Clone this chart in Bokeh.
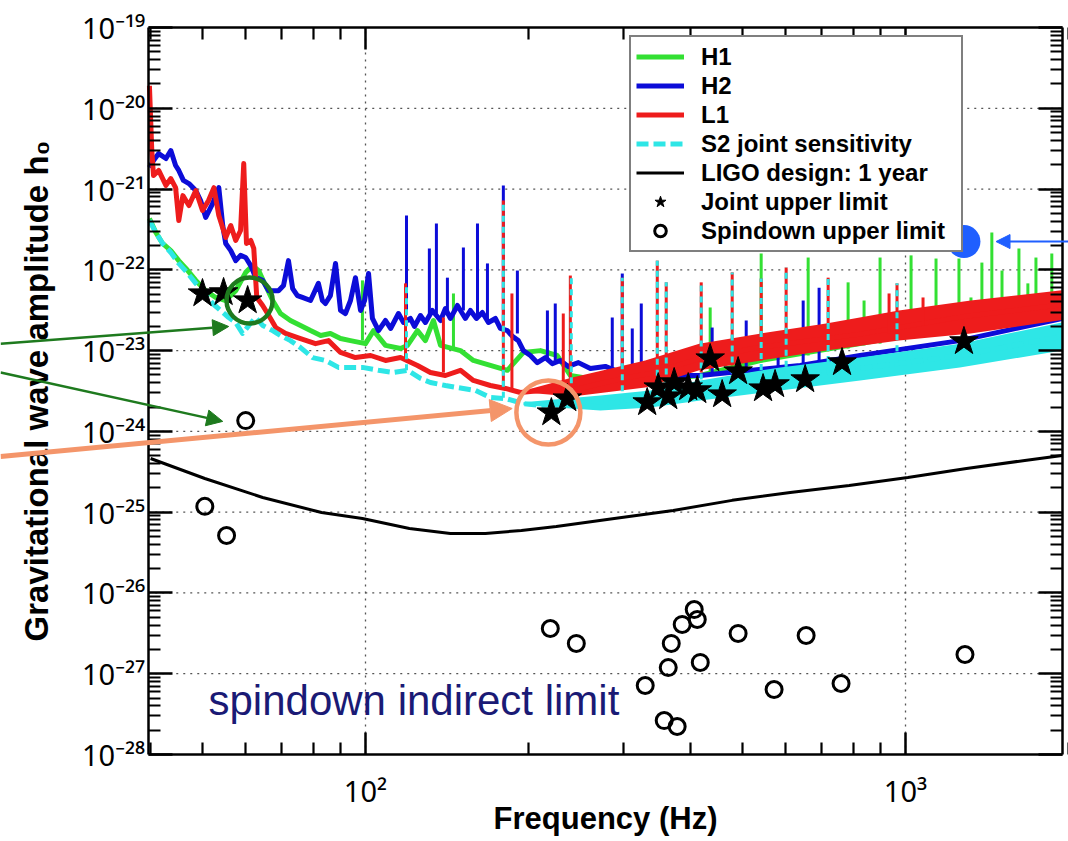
import numpy as np
from bokeh.plotting import figure
from bokeh.models import (ColumnDataSource, FixedTicker, LogAxis, CustomJSTickFormatter,
                          Legend, LegendItem, Arrow, NormalHead)
from bokeh.core.properties import value
from bokeh.embed import file_html
from bokeh.resources import INLINE

# ---------------- data ----------------
# H1 detector (green)
h1_freq = [39.8, 40.9, 42.1, 43.6, 45.1, 46.5, 48.5, 50.6, 52.8, 55.1, 57.5, 60.0, 61.8, 63.4, 65.3,
           67.3, 69.6, 72.6, 75.8, 79.1, 82.6, 86.1, 89.9, 93.8, 100, 103.5, 108.9, 116.1, 119.6,
           124.8, 129.1, 133.6, 137.7, 149.9, 158.4, 170.3, 183.1, 196.1, 210.8, 226.5, 239.5,
           272.2, 336.8, 416.8, 538.1, 824, 1261, 1948]
h1_amp = [4.33e-22, 2.90e-22, 2.12e-22, 1.73e-22, 1.30e-22, 1.04e-22, 7.4e-23, 5.5e-23, 4.55e-23,
          4.17e-23, 5.5e-23, 9.3e-23, 1.13e-22, 9.8e-23, 6.4e-23, 4.17e-23, 2.88e-23, 2.36e-23,
          2.05e-23, 1.77e-23, 1.54e-23, 1.63e-23, 1.41e-23, 1.33e-23, 1.22e-23, 1.77e-23, 1.16e-23,
          1.06e-23, 1.16e-23, 1.77e-23, 1.33e-23, 2.36e-23, 1.16e-23, 1.00e-23, 7.55e-24, 6.55e-24,
          5.7e-24, 9.5e-24, 1.00e-23, 8.7e-24, 4.92e-24, 4.27e-24, 4.27e-24, 4.92e-24, 7.55e-24,
          1.22e-23, 2.05e-23, 3.62e-23]
h1_line_f = [98.7, 145.5, 434.8, 540.4, 660.3, 782.9, 838, 897.2, 1024, 1139, 1256, 1322, 1385,
             1445, 1509, 1622, 1685, 1744, 1866]
h1_line_base = [1.33e-23, 1.0e-23, 4.92e-24, 7.1e-24, 8.7e-24, 1.06e-23, 1.16e-23, 1.22e-23,
                1.50e-23, 1.77e-23, 1.93e-23, 2.05e-23, 2.23e-23, 2.36e-23, 2.50e-23, 2.72e-23,
                2.88e-23, 2.97e-23, 3.32e-23]
h1_line_top = [7.4e-23, 5.1e-23, 3.42e-23, 1.59e-22, 1.42e-22, 7.0e-23, 4.17e-23, 1.42e-22,
               1.51e-22, 1.38e-22, 1.38e-22, 4.55e-23, 1.23e-22, 2.90e-22, 9.8e-23, 1.84e-22,
               6.8e-23, 1.42e-22, 1.59e-22]

# H2 detector (blue)
h2_freq = [39.8, 40.5, 41.4, 42.7, 43.6, 44.5, 45.1, 46.0, 47.1, 48.5, 49.5, 50.6, 52.1, 53.5,
           54.4, 55.1, 56.3, 57.5, 58.7, 60.0, 61.3, 62.6, 64.5, 66.2, 69.0, 70.5, 72.0, 73.3,
           74.8, 76.4, 79.1, 81.8, 83.2, 84.3, 86.1, 88.0, 89.9, 91.8, 93.8, 95.8, 97.9, 99.6,
           101.3, 103.0, 105.7, 108.9, 111.3, 115.1, 117.6, 121.1, 123.2, 126.4, 129.1, 133.0,
           137.7, 140.6, 143.6, 148.0, 153.1, 156.4, 160.5, 164.6, 168.9, 174.0, 177.7, 183.1,
           187.1, 191.9, 196.1, 202.0, 208.1, 215.3, 221.8, 229.5, 237.4, 247.9, 260.9, 278.0,
           296.4, 322.7, 416.8, 638.2, 824, 1261, 1948]
h2_amp = [1.85e-21, 2.26e-21, 2.75e-21, 2.39e-21, 3.0e-21, 1.96e-21, 1.70e-21, 1.28e-21, 1.17e-21,
          9.6e-22, 7.2e-22, 4.45e-22, 6.6e-22, 1.04e-21, 3.54e-22, 2.12e-22, 1.73e-22, 1.30e-22,
          1.51e-22, 1.42e-22, 1.13e-22, 8.0e-23, 7.4e-23, 5.5e-23, 5.5e-23, 6.4e-23, 1.30e-22,
          5.87e-23, 4.8e-23, 4.55e-23, 4.17e-23, 6.8e-23, 4.17e-23, 3.83e-23, 4.8e-23, 1.20e-22,
          3.14e-23, 2.88e-23, 4.17e-23, 8.0e-23, 3.14e-23, 4.17e-23, 9.0e-23, 2.50e-23, 1.77e-23,
          2.36e-23, 1.88e-23, 2.88e-23, 2.23e-23, 2.50e-23, 1.99e-23, 2.72e-23, 2.23e-23, 3.14e-23,
          2.36e-23, 3.32e-23, 2.50e-23, 3.62e-23, 2.50e-23, 3.14e-23, 2.50e-23, 2.97e-23, 2.23e-23,
          2.50e-23, 1.88e-23, 1.77e-23, 1.50e-23, 1.33e-23, 1.00e-23, 8.7e-24, 7.1e-24, 8.2e-24,
          6.9e-24, 7.55e-24, 6.37e-24, 7.1e-24, 6.0e-24, 6.37e-24, 5.36e-24, 4.92e-24, 4.92e-24,
          6.55e-24, 8.7e-24, 1.33e-23, 2.50e-23]
h2_line_f = [119.1, 131.3, 135.3, 141.8, 151.8, 161.2, 168.2, 180.0, 191.1, 217.2, 224.6, 286.4,
             298.9, 311.9, 324.1, 438.5, 507.0, 580.9, 646.4, 691.8]
h2_line_base = [2.88e-23, 2.88e-23, 2.88e-23, 2.72e-23, 3.14e-23, 2.72e-23, 2.36e-23, 2.05e-23,
                1.63e-23, 7.55e-24, 7.55e-24, 6.0e-24, 6.0e-24, 5.7e-24, 5.36e-24, 5.36e-24,
                5.7e-24, 6.37e-24, 6.55e-24, 7.1e-24]
h2_line_top = [4.71e-22, 1.84e-22, 3.75e-22, 8.0e-23, 1.89e-22, 3.75e-22, 1.20e-22, 1.11e-21,
               9.8e-23, 3.14e-23, 3.83e-23, 2.57e-23, 9.0e-23, 1.88e-23, 3.83e-23, 1.93e-23,
               2.36e-23, 1.22e-23, 4.17e-23, 6.0e-23]

# L1 detector (red)
l1_freq = [39.8, 40.2, 40.5, 41.4, 42.7, 43.6, 44.5, 45.1, 45.9, 47.1, 48.5, 49.9, 51.2, 52.4,
           53.5, 55.1, 56.3, 57.5, 58.7, 59.5, 60.2, 61.3, 62.1, 62.9, 64.5, 66.2, 68.2, 71.1,
           75.8, 80.8, 85.4, 89.9, 95.8, 102.2, 108.9, 116.1, 124.8, 131.9, 140.6, 149.9, 158.4,
           170.3, 181.6, 193.6, 210.8, 229.5, 250.0, 272.2, 302.7, 336.8, 416.8, 538.1, 824,
           1261, 1948]
l1_amp = [1.9e-20, 3.0e-21, 1.47e-21, 1.70e-21, 1.11e-21, 1.35e-21, 1.04e-21, 4.08e-22, 8.3e-22,
          6.25e-22, 9.6e-22, 5.43e-22, 7.2e-22, 1.04e-21, 4.71e-22, 2.51e-22, 3.54e-22, 2.31e-22,
          3.07e-22, 2.07e-21, 2.12e-22, 2.31e-22, 1.84e-22, 4.55e-23, 3.62e-23, 2.72e-23, 1.93e-23,
          1.63e-23, 1.41e-23, 1.22e-23, 1.33e-23, 9.5e-24, 8.2e-24, 8.7e-24, 7.55e-24, 8.2e-24,
          6.55e-24, 5.36e-24, 4.92e-24, 5.7e-24, 4.27e-24, 3.70e-24, 3.40e-24, 3.03e-24, 3.21e-24,
          3.21e-24, 3.40e-24, 3.92e-24, 4.6e-24, 5.2e-24, 8.0e-24, 1.1e-23, 1.6e-23, 2.6e-23,
          3.7e-23]
l1_band_f = [200.0, 241.6, 329.6, 415.0, 540.4, 712.9, 972.6, 1321, 1948]
l1_band_lo = [3.0e-24, 2.7e-24, 3.49e-24, 5.7e-24, 7.55e-24, 1.0e-23, 1.33e-23, 1.63e-23, 2.4e-23]
l1_band_hi = [3.3e-24, 4.65e-24, 7.55e-24, 1.22e-23, 1.63e-23, 2.17e-23, 3.14e-23, 4.17e-23, 5.6e-23]
l1_line_f = [118.6, 139.4, 180.0, 186.7, 232.4, 239.5, 298.9, 347.0, 360.5, 418.5, 477.6, 540.4,
             601.1, 719.0, 932.3, 964.4, 1077.6]
l1_line_base = [8.2e-24, 5.36e-24, 3.4e-24, 3.40e-24, 3.21e-24, 3.4e-24, 3.92e-24, 4.52e-24,
                4.52e-24, 5.36e-24, 6.55e-24, 7.55e-24, 8.7e-24, 1.16e-23, 1.63e-23, 1.63e-23,
                2.05e-23]
l1_line_top = [6.8e-23, 2.57e-23, 7.2e-22, 5.1e-23, 2.88e-23, 8.5e-23, 8.0e-23, 1.30e-22, 7.0e-23,
               7.0e-23, 9.3e-23, 7.8e-23, 1.07e-22, 8.0e-23, 5.1e-23, 6.8e-23, 4.55e-23]

# S2 joint sensitivity (cyan, dashed)
s2_freq = [39.8, 40.9, 42.1, 43.6, 45.1, 46.9, 48.5, 50.4, 52.1, 53.9, 55.8, 57.5, 59.2, 60.8,
           62.6, 64.5, 67.3, 69.6, 72.6, 75.8, 79.8, 84.3, 89.1, 93.8, 98.7, 105.7, 112.7, 119.6,
           126.4, 131.9, 140.6, 148.0, 159.8, 170.3, 181.6, 196.1, 210.8, 226.5, 244.6, 260.9,
           284.1, 302.7, 416.8, 585.9, 824, 1261, 1948]
s2_amp = [4.08e-22, 2.90e-22, 2.12e-22, 1.64e-22, 1.20e-22, 9.0e-23, 6.8e-23, 5.1e-23, 3.83e-23,
          3.14e-23, 2.57e-23, 2.23e-23, 1.63e-23, 2.05e-23, 2.57e-23, 2.05e-23, 1.77e-23, 1.54e-23,
          1.33e-23, 1.09e-23, 8.2e-24, 7.55e-24, 6.2e-24, 6.2e-24, 6.2e-24, 5.7e-24, 5.36e-24,
          5.7e-24, 4.52e-24, 4.03e-24, 3.70e-24, 3.49e-24, 3.21e-24, 2.63e-24, 2.55e-24, 2.21e-24,
          2.09e-24, 2.21e-24, 2.09e-24, 2.41e-24, 2.21e-24, 2.41e-24, 3.21e-24, 4.52e-24, 6.0e-24,
          8.7e-24, 1.50e-23]
s2_band_f = [196.1, 272.2, 336.8, 416.8, 585.9, 824, 1261, 1948]
s2_band_lo = [2.1e-24, 1.82e-24, 1.98e-24, 2.41e-24, 3.21e-24, 4.27e-24, 6.2e-24, 1.0e-23]
s2_band_hi = [2.3e-24, 2.78e-24, 3.21e-24, 4.27e-24, 6.2e-24, 8.2e-24, 1.22e-23, 2.23e-23]
s2_line_f = [119.1, 180.0, 240.5, 298.9, 347.0, 360.5, 418.5, 477.6, 540.4, 601.1, 719.0, 964.4]
s2_line_base = [5.7e-24, 2.6e-24, 2.1e-24, 2.3e-24, 2.6e-24, 2.7e-24, 3.2e-24, 3.8e-24, 4.2e-24,
                4.6e-24, 5.3e-24, 7.2e-24]
s2_line_top = [6.8e-23, 7.2e-22, 8.5e-23, 8.0e-23, 1.30e-22, 7.0e-23, 7.0e-23, 9.3e-23, 7.8e-23,
               1.07e-22, 8.0e-23, 6.8e-23]

# LIGO design: 1 year
design_freq = [40, 50.4, 64.5, 82.9, 98.7, 120.6, 143.6, 166.7, 194.4, 225.6, 288.9, 371.4,
               477.5, 611.7, 786.4, 1010, 1297, 1663, 1950]
design_amp = [4.62e-25, 2.61e-25, 1.52e-25, 9.9e-26, 8.35e-26, 6.28e-26, 5.45e-26, 5.45e-26,
              5.93e-26, 6.65e-26, 8.35e-26, 1.05e-25, 1.40e-25, 1.75e-25, 2.14e-25, 2.69e-25,
              3.47e-25, 4.37e-25, 5.03e-25]

# Joint upper limits (stars)
star_freq = [49.9, 54.6, 60.5, 220.9, 236.4, 332.4, 348.4, 363.6, 372.9, 395.9, 411.5, 434.8,
             457.6, 489.8, 544.8, 573.4, 651.9, 762.9, 1283]
star_amp = [5.09e-23, 5.25e-23, 4.17e-23, 1.71e-24, 2.55e-24, 2.28e-24, 3.49e-24, 2.70e-24,
            4.03e-24, 3.49e-24, 3.21e-24, 7.98e-24, 2.86e-24, 5.51e-24, 3.39e-24, 3.81e-24,
            4.39e-24, 7.13e-24, 1.30e-23]

# Spindown upper limits (open circles)
sd_freq = [60.0, 50.4, 55.3, 219.9, 245.7, 368.3, 363.6, 385.9, 406.2, 411.5, 416.8, 329.6,
           357.4, 377.7, 489.8, 571.0, 654.6, 759.7, 1288.6]
sd_amp = [1.36e-24, 1.18e-25, 5.14e-26, 3.63e-27, 2.37e-27, 2.37e-27, 1.19e-27, 4.07e-27,
          6.23e-27, 4.69e-27, 1.38e-27, 7.15e-28, 2.63e-28, 2.22e-28, 3.15e-27, 6.38e-28,
          2.97e-27, 7.57e-28, 1.73e-27]

legend_labels = ["H1", "H2", "L1", "S2 joint sensitivity", "LIGO design: 1 year",
                 "Joint upper limit", "Spindown upper limit"]
x_major = [100, 1000]
x_minor = [40, 50, 60, 70, 80, 90, 200, 300, 400, 500, 600, 700, 800, 900, 2000]
y_major = [10.0 ** e for e in range(-28, -18)]
y_minor = [k * 10.0 ** e for e in range(-28, -19) for k in range(2, 10)]
f_lo, f_hi = 39.6, 1953.0        # extent of the data box (Hz)
h_lo, h_hi = 1e-28, 1e-19        # extent of the data box (h0)

# ---------------- styling ----------------
GREEN = "#33e033"
BLUE = "#0c0cd8"
RED = "#ee1c1c"
CYAN = "#2ee6e6"
FONT = "Liberation Sans"
TICKFONT = "Noto Sans"

p = figure(width=1068, height=841, x_axis_type="log", y_axis_type="log",
           x_range=(21.09, 2003.7), y_range=(8.37e-30, 2.16e-19),
           output_backend="svg", toolbar_location=None,
           min_border_left=0, min_border_right=0, min_border_top=0, min_border_bottom=0,
           x_axis_label="Frequency (Hz)", y_axis_label="Gravitational wave amplitude h\u2080")
p.background_fill_color = "white"
p.border_fill_color = "white"
p.outline_line_color = None
p.xgrid.visible = False
p.ygrid.visible = False

xt = FixedTicker(ticks=x_major, minor_ticks=x_minor)
yt = FixedTicker(ticks=y_major, minor_ticks=y_minor)

fmt_code = """
const sup = {"-": "\\u207B", "0": "\\u2070", "1": "\\u00B9", "2": "\\u00B2", "3": "\\u00B3",
             "4": "\\u2074", "5": "\\u2075", "6": "\\u2076", "7": "\\u2077", "8": "\\u2078",
             "9": "\\u2079"};
const e = Math.round(Math.log10(tick));
let s = "";
for (const c of String(e)) { s += sup[c]; }
return "10" + s;
"""

def style_axis(ax, tick_in_major, tick_in_minor):
    ax.axis_line_width = 2.5
    ax.axis_line_color = "black"
    ax.major_tick_in = tick_in_major
    ax.major_tick_out = 0
    ax.minor_tick_in = tick_in_minor
    ax.minor_tick_out = 0
    ax.major_tick_line_width = 2.5
    ax.minor_tick_line_width = 2.2
    ax.major_tick_line_color = "black"
    ax.minor_tick_line_color = "black"

# grid (dotted, at major ticks, only inside the data box)
p.segment(x0=f_lo, x1=f_hi, y0=y_major[1:-1], y1=y_major[1:-1], line_color="#555555",
          line_dash="2 5", line_width=1.3)
p.segment(x0=x_major, x1=x_major, y0=h_lo, y1=h_hi, line_color="#555555",
          line_dash="2 5", line_width=1.3)

for ax in p.xaxis:
    ax.ticker = xt
    ax.bounds = (f_lo, f_hi)
    ax.fixed_location = h_lo
    ax.formatter = CustomJSTickFormatter(code=fmt_code)
    style_axis(ax, 22, 12)
    ax.major_label_text_font = TICKFONT
    ax.major_label_text_font_size = "29px"
    ax.major_label_text_color = "black"
    ax.major_label_standoff = 17
    ax.axis_label_text_font = FONT
    ax.axis_label_text_font_style = "bold"
    ax.axis_label_text_font_size = "31px"
    ax.axis_label_text_color = "black"
    ax.axis_label_standoff = -13

for ax in p.yaxis:
    ax.ticker = yt
    ax.bounds = (h_lo, h_hi)
    ax.fixed_location = f_lo
    ax.formatter = CustomJSTickFormatter(code=fmt_code)
    style_axis(ax, 24, 12)
    ax.major_label_text_font = TICKFONT
    ax.major_label_text_font_size = "29px"
    ax.major_label_text_color = "black"
    ax.major_label_standoff = 3
    ax.axis_label_text_font = FONT
    ax.axis_label_text_font_style = "bold"
    ax.axis_label_text_font_size = "33px"
    ax.axis_label_text_color = "black"
    ax.axis_label_standoff = 24

blank = CustomJSTickFormatter(code="return '';")
top_ax = LogAxis(ticker=xt, formatter=blank, bounds=(f_lo, f_hi), fixed_location=h_hi,
                 major_label_text_font_size="0px", major_label_standoff=0)
style_axis(top_ax, 22, 12)
p.add_layout(top_ax, "above")
right_ax = LogAxis(ticker=yt, formatter=blank, bounds=(h_lo, h_hi), fixed_location=f_hi,
                   major_label_text_font_size="0px", major_label_standoff=0)
style_axis(right_ax, 24, 12)
p.add_layout(right_ax, "right")

LW = 5

def spikes(f, base, top, color, dash="solid", width=3):
    src = ColumnDataSource(dict(f=f, base=base, top=top))
    p.segment(x0="f", y0="base", x1="f", y1="top", source=src, line_color=color,
              line_width=width, line_dash=dash)

r_h1 = p.line(h1_freq, h1_amp, line_color=GREEN, line_width=LW, line_join="round")
spikes(h1_line_f, h1_line_base, h1_line_top, GREEN)

r_h2 = p.line(h2_freq, h2_amp, line_color=BLUE, line_width=LW, line_join="round")
spikes(h2_line_f, h2_line_base, h2_line_top, BLUE)

p.varea(x=l1_band_f, y1=l1_band_lo, y2=l1_band_hi, fill_color=RED)
r_l1 = p.line(l1_freq, l1_amp, line_color=RED, line_width=LW, line_join="round")
spikes(l1_line_f, l1_line_base, l1_line_top, RED)

p.varea(x=s2_band_f, y1=s2_band_lo, y2=s2_band_hi, fill_color=CYAN)
r_s2 = p.line(s2_freq, s2_amp, line_color=CYAN, line_width=LW, line_dash="12 5", line_join="round")
spikes(s2_line_f, s2_line_base, s2_line_top, CYAN, dash="6 5")

r_des = p.line(design_freq, design_amp, line_color="black", line_width=3)
r_star = p.scatter(star_freq, star_amp, marker="star", size=30, fill_color="black", line_color="black")
r_sd = p.scatter(sd_freq, sd_amp, marker="circle", size=16, fill_color=None, line_color="black",
                 line_width=3)

legend = Legend(items=[LegendItem(label=lab, renderers=[r]) for lab, r in
                       zip(legend_labels, [r_h1, r_h2, r_l1, r_s2, r_des, r_star, r_sd])],
                location=(629, 589))
legend.label_text_font = FONT
legend.label_text_font_style = "bold"
legend.label_text_font_size = "24px"
legend.label_text_color = "black"
legend.border_line_color = "black"
legend.border_line_width = 2.5
legend.background_fill_color = "white"
legend.background_fill_alpha = 1.0
legend.padding = 5
legend.spacing = 0
legend.margin = 0
legend.label_height = 29
legend.glyph_height = 29
legend.glyph_width = 48
legend.label_standoff = 17
legend.label_width = 255
p.add_layout(legend)

# ---------------- overlay annotations ----------------
DKGREEN = "#1e7a1e"
ORANGE = "#f4956a"
DOTBLUE = "#1f5fff"

p.scatter([61.0], [4.17e-23], marker="circle", size=46, fill_color=None, line_color=DKGREEN,
          line_width=4.5)
p.scatter([218.1], [1.71e-24], marker="circle", size=64, fill_color=None, line_color=ORANGE,
          line_width=4.5)
p.scatter([1283], [2.24e-22], marker="circle", size=33, fill_color=DOTBLUE, line_color=None)

p.add_layout(Arrow(end=NormalHead(size=16, fill_color=DKGREEN, line_color=DKGREEN),
                   x_start=21.1, y_start=1.22e-23, x_end=55.8, y_end=1.99e-23,
                   line_color=DKGREEN, line_width=2.5))
p.add_layout(Arrow(end=NormalHead(size=16, fill_color=DKGREEN, line_color=DKGREEN),
                   x_start=21.1, y_start=5.36e-24, x_end=54.4, y_end=1.33e-24,
                   line_color=DKGREEN, line_width=2.5))
p.add_layout(Arrow(end=NormalHead(size=22, fill_color=ORANGE, line_color=ORANGE),
                   x_start=21.1, y_start=4.89e-25, x_end=186.9, y_end=1.92e-24,
                   line_color=ORANGE, line_width=5))
p.add_layout(Arrow(end=NormalHead(size=14, fill_color=DOTBLUE, line_color=DOTBLUE),
                   x_start=2003, y_start=2.24e-22, x_end=1471, y_end=2.24e-22,
                   line_color=DOTBLUE, line_width=2))

p.text(x=[51.2], y=[4.67e-28], text=["spindown indirect limit"], text_font=value(FONT),
       text_font_size="42px", text_color="#1a1a75", text_baseline="alphabetic", text_align="left")

open("out.html", "w").write(file_html(p, INLINE))
